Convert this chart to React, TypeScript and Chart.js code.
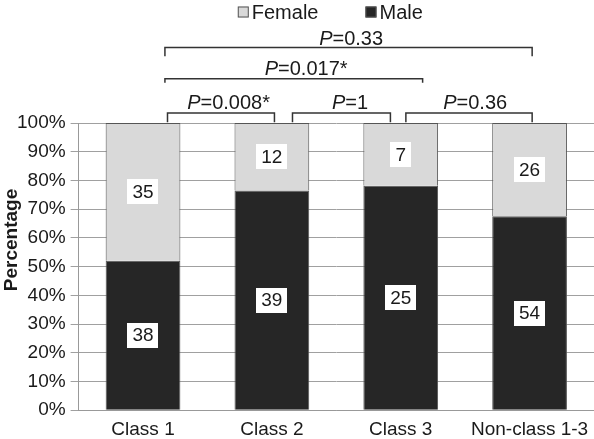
import React, { useEffect, useRef } from "react";
import { Chart, registerables } from "chart.js";

Chart.register(...registerables);

const categories = ["Class 1", "Class 2", "Class 3", "Non-class 1-3"];
const maleCounts = [38, 39, 25, 54];
const femaleCounts = [35, 12, 7, 26];
const seriesNames = ["Female", "Male"];

// comparison brackets (x in category index units, y in % units)
const bracketLabels = ["0.008*", "1", "0.36", "0.017*", "0.33"];
const bracketStart = [0.19, 1.16, 2.04, 0.17, 0.17];
const bracketEnd = [1.02, 1.92, 3.02, 2.17, 3.02];
const bracketTop = [103.5, 103.5, 103.5, 115.4, 126.3];
const bracketBottom = [100.3, 100.3, 100.3, 114.0, 123.2];
const bracketTextX = [0.664, 1.607, 2.578, 1.266, 1.615];
const bracketTextY = [106.9, 106.9, 106.9, 118.7, 129.1];

const FEMALE_COLOR = "#d9d9d9";
const MALE_COLOR = "#262626";
const FONT = "'Liberation Sans', Arial, sans-serif";

const malePct = maleCounts.map((m, i) => (m / (m + femaleCounts[i])) * 100);
const femalePct = femaleCounts.map((f, i) => (f / (maleCounts[i] + f)) * 100);

const overlayPlugin = {
  id: "overlay",
  afterDatasetsDraw(chart: any) {
    const ctx = chart.ctx;
    const xs = chart.scales.x;
    const ys = chart.scales.y;
    const ca = chart.chartArea;
    ctx.save();
    // data labels in white boxes
    ctx.font = `19px ${FONT}`;
    ctx.textAlign = "center";
    ctx.textBaseline = "middle";
    chart.data.datasets.forEach((ds: any, di: number) => {
      const meta = chart.getDatasetMeta(di);
      meta.data.forEach((bar: any, i: number) => {
        const { x, y, base } = bar.getProps(["x", "y", "base"], true);
        const cy = (y + base) / 2;
        const txt = String(ds.counts[i]);
        const w = ctx.measureText(txt).width + 10;
        const h = 25;
        ctx.fillStyle = "#ffffff";
        ctx.fillRect(Math.round(x - w / 2), Math.round(cy - h / 2), Math.round(w), h);
        ctx.fillStyle = "#1a1a1a";
        ctx.fillText(txt, x, cy + 1);
      });
    });

    // brackets
    ctx.strokeStyle = "#333333";
    ctx.lineWidth = 1.5;
    bracketLabels.forEach((lab, i) => {
      const x1 = xs.getPixelForValue(bracketStart[i]);
      const x2 = xs.getPixelForValue(bracketEnd[i]);
      const yt = ys.getPixelForValue(bracketTop[i]);
      const yb = ys.getPixelForValue(bracketBottom[i]);
      ctx.beginPath();
      ctx.moveTo(x1, yb);
      ctx.lineTo(x1, yt);
      ctx.lineTo(x2, yt);
      ctx.lineTo(x2, yb);
      ctx.stroke();
      const tx = xs.getPixelForValue(bracketTextX[i]);
      const ty = ys.getPixelForValue(bracketTextY[i]);
      ctx.textBaseline = "middle";
      ctx.textAlign = "left";
      ctx.font = `italic 20px ${FONT}`;
      const wP = ctx.measureText("P").width;
      ctx.font = `20px ${FONT}`;
      const rest = "=" + lab;
      const wR = ctx.measureText(rest).width;
      const start = tx - (wP + wR) / 2;
      ctx.fillStyle = "#1a1a1a";
      ctx.font = `italic 20px ${FONT}`;
      ctx.fillText("P", start, ty);
      ctx.font = `20px ${FONT}`;
      ctx.fillText(rest, start + wP, ty);
    });

    // legend (Female, Male)
    ctx.font = `20px ${FONT}`;
    ctx.textAlign = "left";
    ctx.textBaseline = "middle";
    const colors = [FEMALE_COLOR, MALE_COLOR];
    const box = 11;
    const gap = 3;
    const itemGap = 47;
    const widths = seriesNames.map((n) => box + gap + ctx.measureText(n).width);
    const total = widths[0] + itemGap + widths[1];
    let lx = (ca.left + ca.right) / 2 - total / 2 - 6;
    const ly = 12;
    seriesNames.forEach((n, i) => {
      ctx.fillStyle = colors[i];
      ctx.fillRect(lx, ly - box / 2, box, box);
      ctx.strokeStyle = "#555555";
      ctx.lineWidth = 1;
      ctx.strokeRect(lx + 0.5, ly - box / 2 + 0.5, box - 1, box - 1);
      ctx.fillStyle = "#1a1a1a";
      ctx.fillText(n, lx + box + gap, ly + 1);
      lx += widths[i] + itemGap;
    });

    // y-axis title
    ctx.save();
    ctx.translate(12, 240);
    ctx.rotate(-Math.PI / 2);
    ctx.font = `bold 19px ${FONT}`;
    ctx.textAlign = "center";
    ctx.textBaseline = "middle";
    ctx.fillStyle = "#1a1a1a";
    ctx.fillText("Percentage", 0, 0);
    ctx.restore();

    ctx.restore();
  },
};

export default function App() {
  const ref = useRef<HTMLCanvasElement | null>(null);
  useEffect(() => {
    if (!ref.current) return;
    const chart = new Chart(ref.current, {
      type: "bar",
      data: {
        labels: categories,
        datasets: [
          {
            label: "Male",
            data: malePct,
            counts: maleCounts,
            backgroundColor: MALE_COLOR,
            borderColor: "#555555",
            borderWidth: 1,
            barPercentage: 0.58,
            categoryPercentage: 1,
          } as any,
          {
            label: "Female",
            data: femalePct,
            counts: femaleCounts,
            backgroundColor: FEMALE_COLOR,
            borderColor: "#555555",
            borderWidth: 1,
            barPercentage: 0.58,
            categoryPercentage: 1,
          } as any,
        ],
      },
      options: {
        responsive: false,
        animation: false,
        devicePixelRatio: 1,
        layout: { padding: { top: 123, left: 12, right: 0, bottom: 0 } },
        plugins: {
          legend: { display: false },
          tooltip: { enabled: false },
          title: { display: false },
        },
        scales: {
          x: {
            stacked: true,
            grid: { display: false, drawTicks: false },
            border: { display: true, color: "#999999", width: 1 },
            ticks: {
              color: "#1a1a1a",
              font: { family: FONT, size: 19, lineHeight: 1.516 },
              padding: 5,
              maxRotation: 0,
            },
          },
          y: {
            stacked: true,
            min: 0,
            max: 100,
            grid: { color: "#a0a0a0", lineWidth: 1, tickLength: 8 },
            border: { display: true, color: "#999999", width: 1 },
            ticks: {
              stepSize: 10,
              color: "#1a1a1a",
              font: { family: FONT, size: 19 },
              padding: 5,
              callback: (v: any) => `${v}%`,
            },
          },
        },
      },
      plugins: [overlayPlugin],
    });
    return () => chart.destroy();
  }, []);
  return (
    <div style={{ position: "fixed", left: 0, top: 0, width: 594, height: 439, overflow: "hidden", background: "#fff" }}>
      <canvas ref={ref} width={594} height={449} />
    </div>
  );
}
